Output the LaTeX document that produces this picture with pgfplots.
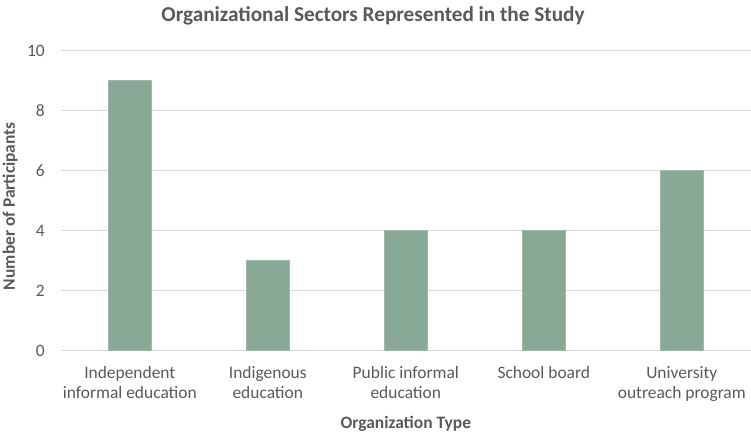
\documentclass[border=0pt]{standalone}
\usepackage{pgfplots}
\pgfplotsset{compat=1.18}
\usepackage{fontspec}
\setmainfont{Carlito}
\definecolor{barc}{HTML}{87A996}
\definecolor{txt}{HTML}{595959}
\definecolor{grd}{HTML}{D9D9D9}
\begin{document}
\begin{tikzpicture}[x=1bp,y=1bp]
\useasboundingbox (-60.8bp,-81.3bp) rectangle (690.2bp,350.7bp);
\begin{axis}[
  at={(0,0)}, anchor=south west,
  scale only axis, width=690bp, height=300bp,
  xmin=-0.5, xmax=4.5, ymin=0, ymax=10,
  ytick={0,2,...,10},
  xtick={0,1,2,3,4},
  xticklabels={{Independent\\informal education},{Indigenous\\education},{Public informal\\education},{School board},{University\\outreach program}},
  xticklabel style={align=center, font=\fontsize{17.5}{20.7}\selectfont, text=txt, anchor=north, yshift=-12bp},
  yticklabel style={font=\fontsize{17.5}{21}\selectfont, text=txt, xshift=-12.5bp},
  /pgf/number format/assume math mode=true,
  major tick length=0pt,
  axis line style={draw=none},
  ymajorgrids, grid style={grd, line width=1.3bp},
  xlabel={\textbf{Organization Type}},
  xlabel style={font=\fontsize{17.5}{21}\selectfont, text=txt, at={(axis description cs:0.5,0)}, anchor=center, yshift=-73.5bp},
  ylabel={\textbf{Number of Participants}},
  ylabel style={font=\fontsize{17.5}{21}\selectfont, text=txt, at={(axis description cs:-0.0736,0.482)}, anchor=center},
  ybar, bar width=43.4bp,
  clip=false,
]
\addplot[fill=barc, draw=barc!80!white, line width=0.6bp] coordinates {(0,9) (1,3) (2,4) (3,4) (4,6)};
\end{axis}
\node[font=\bfseries\fontsize{21.3}{25}\selectfont, text=txt] at (312.2bp,334.7bp) {Organizational Sectors Represented in the Study};
\end{tikzpicture}
\end{document}
